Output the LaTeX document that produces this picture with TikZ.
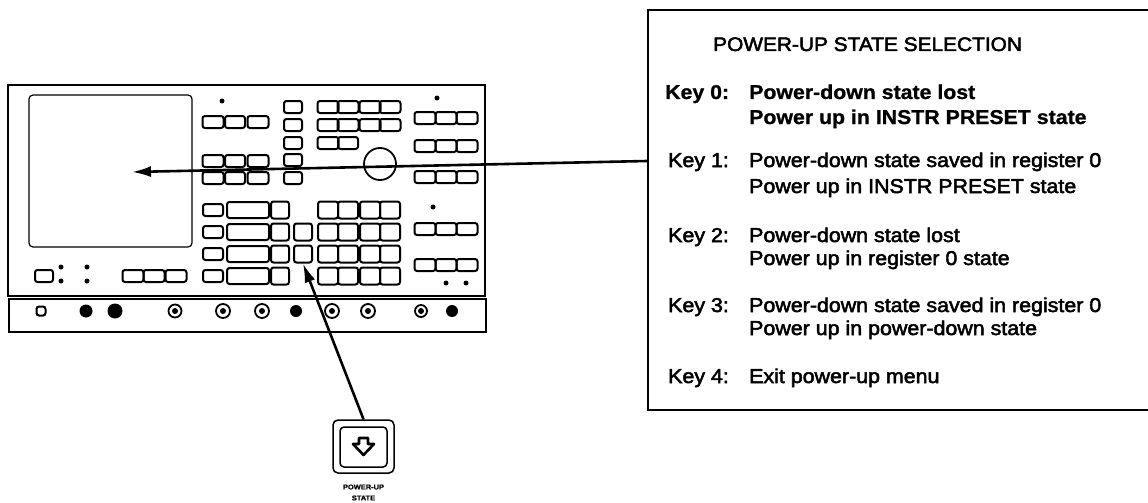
\documentclass[tikz,border=0pt]{standalone}
\usepackage{fontspec}
\setmainfont{Liberation Sans}
\newfontfamily\menufont[FakeStretch=1.07,FakeBold=2.5]{Liberation Sans}
\newfontfamily\menuboldfont[FakeStretch=1.065,FakeBold=1]{Liberation Sans Bold}
\usetikzlibrary{arrows.meta}
\tikzset{
  screw/.style={circle,draw,line width=1.8pt,inner sep=0pt,minimum size=#1},
  filledscrew/.style={circle,fill=black,inner sep=0pt,minimum size=#1},
  dot/.style={circle,fill=black,inner sep=0pt,minimum size=5pt},
  menutext/.style={anchor=base west,inner sep=0pt,font=\fontsize{20}{22}\menufont},
  keytext/.style={menutext,font=\fontsize{20}{22}\menuboldfont},
  pointer/.style={line width=2.6pt,-{Latex[length=19pt,width=11pt]}}
}
\newcommand{\panelkey}[5][]{\node[draw,line width=2pt,rounded corners=2.5pt,inner sep=0pt,minimum width=#4pt,minimum height=#5pt,#1] at (#2) (#3) {}}
\begin{document}
\begin{tikzpicture}[x=1pt,y=-1pt]
	\useasboundingbox (0,0) rectangle (1148,503);
	% front panel
	\node[draw,line width=1.3pt,minimum width=477pt,minimum height=211pt,inner sep=0pt] at (246.5,190.5) (panel) {};
	\node[draw,line width=1.3pt,minimum width=477pt,minimum height=33pt,inner sep=0pt] at (247.5,315.5) (strip) {};
	\node[draw,line width=1.2pt,rounded corners=4pt,minimum width=163pt,minimum height=152pt,inner sep=0pt] at (110.5,171) (screen) {};
	\coordinate (screentip) at (132,172);
	% left key groups
	\foreach \yy/\nn in {122/a,161/b,178/c}{
		\panelkey{213,\yy}{la\nn}{21}{12};
		\panelkey{235,\yy}{lb\nn}{20}{12};
		\panelkey{258,\yy}{lc\nn}{21}{12};
	}
	\node[dot] at (222,101) (dota) {};
	\foreach \yy/\nn in {107/a,125/b,143/c,160/d,178/e}{
		\panelkey{293,\yy}{col\nn}{18}{12};
	}
	\foreach \xx/\nn in {328/a,348/b,370/c,390/d}{
		\panelkey{\xx,107}{ua\nn}{21}{12};
		\panelkey{\xx,125}{ub\nn}{21}{12};
	}
	\panelkey{328,143}{uca}{21}{12};
	\panelkey{348,143}{ucb}{20}{12};
	% knob
	\node[circle,draw,line width=1.8pt,minimum size=32pt,inner sep=0pt] at (380,164) (knob) {};
	% right key groups
	\foreach \yy/\nn in {118/a,146/b,177/c,229/d,265/e}{
		\panelkey{425,\yy}{ra\nn}{21}{12};
		\panelkey{446,\yy}{rb\nn}{21}{12};
		\panelkey{467,\yy}{rc\nn}{21}{12};
	}
	\node[dot] at (437,98) (dotb) {};
	\node[dot] at (433,207) (dotc) {};
	\node[dot] at (446,283) (dotd) {};
	\node[dot] at (466,283) (dote) {};
	% lower keys
	\foreach \yy/\nn in {210/a,232/b,254/c,276/d}{
		\panelkey{213,\yy}{ka\nn}{20}{12};
		\panelkey{248,\yy}{kb\nn}{42}{16};
		\panelkey{280,\yy}{kc\nn}{18}{17};
		\panelkey{328,\yy}{ga\nn}{20}{17};
		\panelkey{348,\yy}{gb\nn}{20}{17};
		\panelkey{370,\yy}{gc\nn}{20}{17};
		\panelkey{390,\yy}{gd\nn}{20}{17};
	}
	\panelkey{303,232}{pa}{18}{17};
	\panelkey{303,254}{pkey}{18}{17};
	% bottom left of panel
	\panelkey{44,276}{ba}{18}{12};
	\panelkey{133,276}{bb}{21}{12};
	\panelkey{154,276}{bc}{21}{12};
	\panelkey{176,276}{bd}{21}{12};
	\node[dot] at (61,267) (dotf) {};
	\node[dot] at (61,281) (dotg) {};
	\node[dot] at (87,267) (doth) {};
	\node[dot] at (87,281) (doti) {};
	% connectors row
	\panelkey{41,311}{plug}{9}{9};
	\node[filledscrew=13pt] at (86,311) (sa) {};
	\node[filledscrew=15pt] at (115,311) (sb) {};
	\node[screw=13pt] at (175,311) (sc) {};
	\node[screw=14pt] at (223,311) (sd) {};
	\node[screw=14pt] at (262,311) (se) {};
	\node[filledscrew=12pt] at (296,311) (sf) {};
	\node[screw=14pt] at (332,311) (sg) {};
	\node[screw=14pt] at (368,311) (sh) {};
	\node[screw=12pt] at (421,311) (si) {};
	\node[filledscrew=12pt] at (452,311) (sj) {};
	\foreach \nn in {sc,sd,se,sg,sh,si}{
		\node[filledscrew=6pt] at (\nn) {};
	}
	% power-up key
	\node[draw,line width=1.5pt,rounded corners=5pt,minimum width=61pt,minimum height=53pt,inner sep=0pt] at (363.5,446.5) (pwrkey) {};
	\node[draw,line width=1.5pt,rounded corners=4pt,minimum width=47pt,minimum height=40pt,inner sep=0pt] at (363.5,447) (pwrinner) {};
	\draw[line width=2.6pt,line join=round] (359,438) -- (368,438) -- (368,444) -- (374,444) -- (363.5,455) -- (353,444) -- (359,444) -- cycle;
	\node[font=\fontsize{7}{8}\menuboldfont,inner sep=0pt] at (363.5,487) (pwrlabel) {POWER-UP};
	\node[font=\fontsize{7}{8}\menuboldfont,inner sep=0pt] at (363.5,498) (pwrstate) {STATE};
	% selection box
	\node[draw,line width=2pt,minimum width=520pt,minimum height=400pt,inner sep=0pt] at (908,210) (selbox) {};
	\coordinate (boxport) at (selbox.west |- 0,161);
	\node[menutext,font=\fontsize{19.5}{22}\menufont] at (713,51) (title) {POWER-UP STATE SELECTION};
	\node[keytext] at (665,99) (keya) {Key 0:};
	\node[keytext] at (749,99) (keyal) {Power-down state lost};
	\node[keytext] at (749,124) (keyam) {Power up in INSTR PRESET state};
	\node[menutext] at (668,167) (keyb) {Key 1:};
	\node[menutext] at (749,167) (keybl) {Power-down state saved in register 0};
	\node[menutext] at (749,193) (keybm) {Power up in INSTR PRESET state};
	\node[menutext] at (668,242) (keyc) {Key 2:};
	\node[menutext] at (749,242) (keycl) {Power-down state lost};
	\node[menutext] at (749,265) (keycm) {Power up in register 0 state};
	\node[menutext] at (668,312) (keyd) {Key 3:};
	\node[menutext] at (749,312) (keydl) {Power-down state saved in register 0};
	\node[menutext] at (749,335) (keydm) {Power up in power-down state};
	\node[menutext] at (668,383) (keye) {Key 4:};
	\node[menutext] at (749,383) (keyel) {Exit power-up menu};
	\draw[pointer] (boxport) -- (screentip);
	\draw[pointer] (pwrkey.north) -- (pkey.south);
\end{tikzpicture}
\end{document}
